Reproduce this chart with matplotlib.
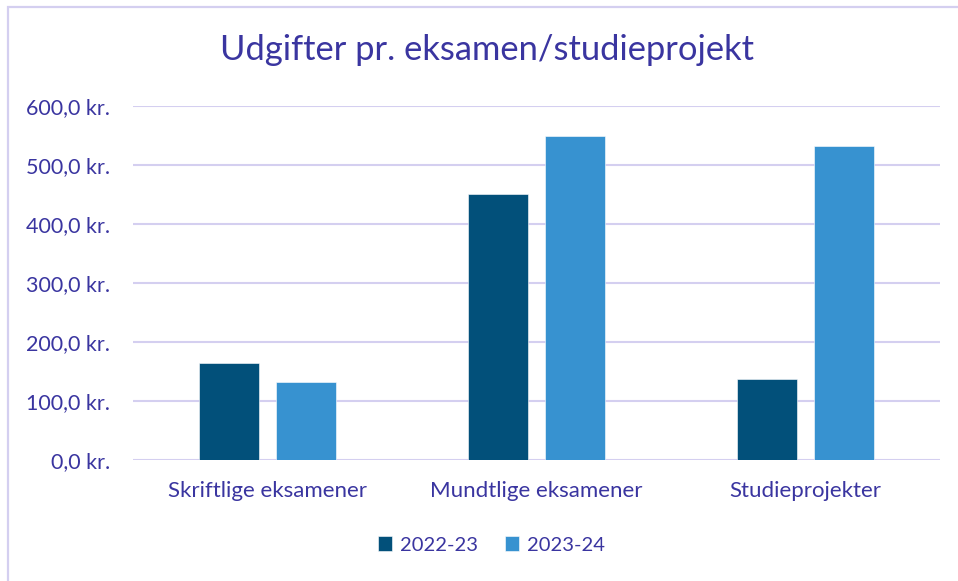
import matplotlib
matplotlib.use("Agg")
import matplotlib.pyplot as plt
from matplotlib.patches import Rectangle
from matplotlib.ticker import FuncFormatter
import numpy as np

categories = ["Skriftlige eksamener", "Mundtlige eksamener", "Studieprojekter"]
series_names = ["2022-23", "2023-24"]
values_2022 = [165, 450, 137.5]
values_2023 = [132.5, 549, 531]
yticks = [0, 100, 200, 300, 400, 500, 600]

text_color = "#3A35A0"
grid_color = "#D4CFF0"
colors = ["#02507A", "#3792D0"]

plt.rcParams["font.family"] = ["Lato", "DejaVu Sans"]

fig = plt.figure(figsize=(9.58, 5.81), dpi=100)
fig.patches.append(Rectangle((7.5 / 958, -0.1), 1.2, 1 - 6.5 / 581 + 0.1,
                             transform=fig.transFigure, fill=False,
                             edgecolor=grid_color, linewidth=1.6))

ax = fig.add_axes([133 / 958, 1 - 460 / 581, (940 - 133) / 958, (460 - 105.7) / 581])
x = np.arange(len(categories))
w = 0.223
off = 0.143
ax.bar(x - off, values_2022, w, color=colors[0], label=series_names[0], zorder=3,
       edgecolor="white", linewidth=0.4)
ax.bar(x + off, values_2023, w, color=colors[1], label=series_names[1], zorder=3,
       edgecolor="white", linewidth=0.4)

ax.set_xlim(-0.5, 2.5)
ax.set_ylim(0, 600)
ax.set_yticks(yticks)
ax.yaxis.set_major_formatter(FuncFormatter(lambda v, p: f"{v:.1f}".replace(".", ",") + " kr."))
ax.set_xticks(x)
ax.set_xticklabels(categories)
ax.tick_params(axis="both", length=0, colors=text_color)
ax.tick_params(axis="y", pad=16.5, labelsize=15.5)
ax.tick_params(axis="x", pad=15, labelsize=16)
ax.grid(axis="y", color=grid_color, linewidth=1.5, zorder=0)
for s in ax.spines.values():
    s.set_visible(False)

fig.text(487 / 958, 1 - 50 / 581, "Udgifter pr. eksamen/studieprojekt", ha="center", va="center",
         fontsize=24.8, color=text_color)

leg = fig.legend(loc="center", bbox_to_anchor=(491.5 / 958, 1 - 545 / 581), ncol=2, frameon=False,
                 fontsize=14.5, handlelength=0.7, handleheight=0.7, handletextpad=0.4,
                 columnspacing=1.3)
for t in leg.get_texts():
    t.set_color(text_color)

fig.savefig("out.png", dpi=100)
